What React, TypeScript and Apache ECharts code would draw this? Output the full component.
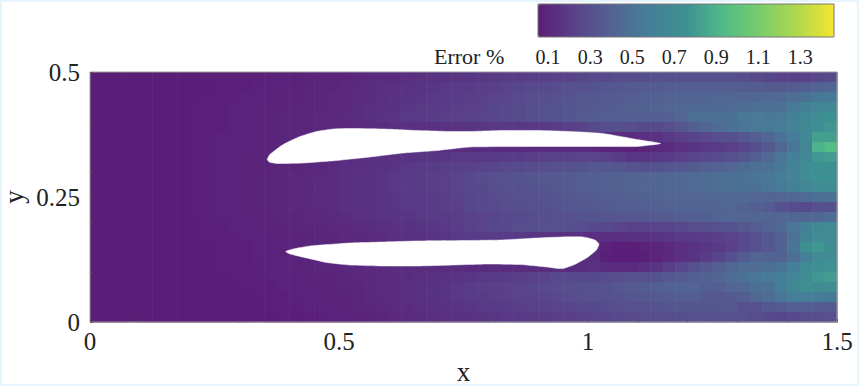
import React, { useEffect, useRef } from "react";
import * as echarts from "echarts";

const FONT = "Liberation Serif";
const xTickLabels = [0, 0.5, 1, 1.5];
const xTickMarks = [0, 0.1, 0.2, 0.3, 0.4, 0.5, 0.6, 0.7, 0.8, 0.9, 1, 1.1, 1.2, 1.3, 1.4, 1.5];
const yTickLabels = [0, 0.25, 0.5];
const yTickMarks = [0, 0.1, 0.2, 0.25, 0.3, 0.4, 0.5];
const barTicks = [0.1, 0.3, 0.5, 0.7, 0.9, 1.1, 1.3];
const palette = ["#5a1e78", "#59428a", "#526393", "#457f97", "#3d9192", "#50bb88", "#79cc6a", "#b0d84e", "#f5e62f"];

const cellW = 0.025;
const cellH = 0.02;

const row00 = [.05,.05,.05,.05,.05,.05,.05,.05,.05,.05, .06,.06,.06,.06,.07,.07,.07,.08,.08,.09, .09,.10,.11,.12,.12,.13,.14,.15,.15,.16, .17,.18,.19,.20,.20,.21,.22,.23,.24,.25, .26,.27,.28,.28,.29,.30,.30,.30,.31,.31, .31,.30,.29,.27,.25,.23,.22,.23,.25,.27];
const row01 = [.05,.05,.05,.05,.05,.05,.05,.05,.05,.05, .06,.06,.06,.07,.07,.07,.08,.08,.09,.09, .10,.11,.12,.13,.14,.15,.16,.17,.18,.19, .20,.21,.22,.24,.25,.26,.27,.28,.30,.31, .32,.33,.34,.35,.36,.36,.37,.37,.38,.38, .38,.38,.37,.36,.35,.35,.36,.38,.40,.42];
const row02 = [.05,.05,.05,.05,.05,.05,.05,.05,.05,.06, .06,.06,.07,.07,.07,.08,.08,.09,.09,.10, .10,.11,.12,.13,.15,.16,.17,.18,.19,.20, .21,.22,.24,.25,.27,.28,.29,.30,.32,.33, .34,.35,.36,.37,.38,.39,.40,.40,.41,.41, .42,.42,.43,.43,.44,.44,.46,.50,.53,.55];
const row03 = [.05,.05,.05,.05,.05,.05,.05,.05,.06,.06, .06,.07,.07,.07,.08,.08,.09,.09,.09,.10, .10,.12,.13,.14,.15,.17,.18,.19,.20,.21, .22,.23,.25,.26,.27,.29,.30,.32,.33,.34, .35,.36,.37,.39,.40,.41,.42,.43,.44,.44, .44,.45,.46,.47,.48,.50,.55,.60,.65,.68];
const row04 = [.05,.05,.05,.05,.05,.05,.05,.05,.06,.06, .06,.07,.07,.08,.08,.09,.09,.09,.10,.10, .11,.12,.13,.15,.16,.18,.19,.20,.21,.22, .23,.24,.25,.26,.27,.29,.30,.32,.33,.35, .36,.37,.38,.38,.37,.37,.39,.42,.47,.48, .49,.50,.53,.54,.53,.55,.60,.66,.72,.75];
const row05 = [.05,.05,.05,.05,.05,.05,.05,.05,.06,.06, .06,.07,.07,.08,.08,.09,.09,.09,.10,.10, .10,.11,.12,.12,.13,.14,.14,.14,.15,.16, .16,.17,.18,.18,.18,.18,.19,.20,.21,.24, .27,.28,.29,.28,.27,.27,.29,.33,.38,.42, .46,.50,.52,.54,.55,.57,.62,.68,.74,.78];
const row06 = [.05,.05,.05,.05,.05,.05,.05,.05,.06,.06, .07,.07,.07,.08,.08,.09,.09,.09,.10,.10, .12,.12,.12,.12,.12,.12,.12,.12,.12,.12, .12,.12,.12,.12,.12,.12,.12,.12,.12,.12, .14,.13,.12,.11,.13,.15,.18,.21,.24,.26, .29,.31,.34,.38,.43,.50,.56,.68,.82,.82];
const row07 = [.05,.05,.05,.05,.05,.05,.05,.05,.06,.06, .07,.07,.07,.08,.08,.09,.09,.09,.10,.10, .12,.12,.12,.12,.12,.12,.12,.12,.12,.12, .12,.12,.12,.12,.12,.12,.12,.12,.12,.12, .10,.08,.07,.06,.08,.10,.12,.14,.16,.18, .20,.22,.25,.29,.35,.42,.52,.65,.90,.95];
const row08 = [.05,.05,.05,.05,.05,.05,.05,.05,.06,.06, .07,.07,.08,.08,.08,.09,.09,.10,.10,.11, .13,.13,.14,.14,.15,.16,.16,.17,.17,.18, .18,.18,.19,.20,.20,.21,.22,.23,.23,.24, .24,.22,.20,.17,.17,.18,.20,.22,.24,.26, .28,.30,.33,.38,.44,.52,.60,.68,.78,.80];
const row09 = [.05,.05,.05,.05,.05,.05,.05,.05,.06,.06, .07,.07,.08,.08,.08,.09,.09,.10,.10,.11, .13,.13,.14,.15,.16,.18,.19,.20,.21,.22, .23,.24,.25,.26,.27,.28,.29,.30,.31,.32, .34,.34,.33,.32,.31,.32,.33,.34,.36,.38, .40,.42,.45,.48,.50,.55,.62,.70,.75,.75];
const row10 = [.05,.05,.05,.05,.05,.05,.05,.05,.06,.06, .07,.07,.08,.08,.09,.09,.10,.10,.11,.12, .13,.14,.15,.16,.18,.19,.20,.21,.22,.24, .27,.28,.30,.31,.32,.33,.34,.35,.36,.37, .38,.39,.40,.41,.41,.42,.43,.44,.45,.46, .47,.48,.50,.52,.53,.57,.63,.70,.75,.75];
const row11 = [.05,.05,.05,.05,.05,.05,.05,.05,.06,.06, .07,.07,.08,.08,.09,.09,.10,.10,.11,.12, .13,.14,.15,.16,.18,.19,.20,.21,.22,.24, .26,.27,.29,.30,.31,.32,.33,.34,.35,.37, .38,.39,.40,.41,.42,.42,.43,.44,.45,.46, .47,.48,.50,.50,.52,.55,.60,.65,.70,.72];
const row12 = [.05,.05,.05,.05,.05,.05,.05,.05,.06,.06, .07,.07,.08,.08,.09,.09,.10,.10,.11,.12, .13,.14,.15,.16,.17,.18,.19,.20,.21,.23, .25,.26,.28,.29,.30,.31,.32,.33,.34,.35, .36,.37,.38,.39,.40,.41,.42,.42,.42,.42, .43,.44,.44,.42,.42,.42,.43,.45,.48,.50];
const row13 = [.05,.05,.05,.05,.05,.05,.05,.05,.06,.06, .07,.07,.08,.08,.09,.09,.10,.10,.11,.12, .13,.14,.15,.16,.17,.18,.19,.20,.21,.22, .25,.26,.27,.28,.29,.30,.31,.32,.33,.34, .35,.36,.37,.37,.38,.39,.40,.40,.41,.41, .42,.42,.40,.38,.36,.32,.28,.27,.30,.30];
const row14 = [.05,.05,.05,.05,.05,.05,.05,.05,.06,.06, .07,.07,.07,.08,.08,.09,.09,.10,.10,.11, .12,.13,.14,.15,.16,.17,.18,.19,.20,.21, .23,.24,.25,.26,.27,.28,.29,.30,.31,.32, .32,.33,.33,.33,.34,.35,.36,.37,.38,.39, .41,.42,.42,.42,.42,.42,.42,.42,.43,.46];
const row15 = [.05,.05,.05,.05,.05,.05,.05,.05,.05,.06, .06,.07,.07,.07,.08,.08,.09,.09,.09,.10, .10,.11,.12,.13,.14,.15,.16,.17,.18,.20, .22,.24,.26,.27,.28,.29,.30,.30,.29,.28, .27,.26,.24,.23,.23,.24,.25,.27,.28,.29, .30,.32,.34,.37,.40,.44,.52,.60,.68,.70];
const row16 = [.05,.05,.05,.05,.05,.05,.05,.05,.05,.06, .06,.06,.07,.07,.07,.08,.08,.08,.09,.09, .10,.10,.11,.12,.13,.14,.15,.16,.17,.18, .20,.20,.20,.20,.18,.17,.16,.15,.14,.13, .13,.13,.13,.14,.15,.16,.17,.18,.19,.20, .22,.24,.27,.30,.34,.40,.50,.62,.70,.70];
const row17 = [.05,.05,.05,.05,.05,.05,.05,.05,.05,.05, .06,.06,.06,.07,.07,.07,.08,.08,.09,.09, .12,.12,.12,.12,.12,.12,.12,.12,.12,.12, .12,.12,.12,.12,.12,.12,.12,.12,.12,.12, .12,.07,.06,.06,.07,.09,.11,.13,.15,.17, .19,.22,.26,.31,.34,.40,.52,.74,.78,.72];
const row18 = [.05,.05,.05,.05,.05,.05,.05,.05,.05,.05, .06,.06,.06,.07,.07,.07,.08,.08,.08,.09, .12,.12,.12,.12,.12,.12,.12,.12,.12,.12, .12,.12,.12,.12,.12,.12,.12,.12,.12,.12, .12,.06,.05,.05,.06,.08,.10,.13,.16,.20, .24,.30,.36,.41,.40,.40,.47,.58,.70,.70];
const row19 = [.05,.05,.05,.05,.05,.05,.05,.05,.05,.05, .06,.06,.06,.06,.07,.07,.08,.08,.09,.09, .10,.10,.11,.11,.12,.12,.12,.12,.12,.12, .12,.12,.12,.12,.12,.12,.12,.12,.12,.12, .14,.12,.11,.11,.13,.16,.21,.26,.30,.34, .38,.43,.46,.46,.48,.51,.58,.69,.74,.76];
const row20 = [.05,.05,.05,.05,.05,.05,.05,.05,.05,.05, .05,.06,.06,.06,.07,.07,.07,.08,.08,.08, .09,.10,.10,.11,.12,.12,.13,.14,.15,.16, .17,.18,.19,.20,.21,.22,.24,.26,.26,.27, .27,.28,.29,.30,.31,.32,.34,.36,.38,.40, .42,.46,.50,.52,.55,.58,.64,.72,.78,.80];
const row21 = [.05,.05,.05,.05,.05,.05,.05,.05,.05,.05, .05,.05,.06,.06,.06,.07,.07,.07,.08,.08, .09,.09,.10,.11,.12,.13,.14,.15,.17,.18, .20,.21,.22,.23,.24,.25,.27,.28,.29,.30, .31,.32,.33,.35,.36,.38,.40,.41,.41,.38, .38,.42,.44,.47,.50,.58,.68,.74,.72,.72];
const row22 = [.05,.05,.05,.05,.05,.05,.05,.05,.05,.05, .05,.05,.05,.06,.06,.06,.07,.07,.07,.08, .08,.09,.10,.11,.12,.13,.14,.15,.16,.18, .19,.20,.21,.22,.23,.24,.25,.26,.28,.29, .30,.31,.32,.33,.34,.35,.36,.37,.37,.34, .34,.35,.38,.43,.46,.52,.58,.58,.56,.55];
const row23 = [.05,.05,.05,.05,.05,.05,.05,.05,.05,.05, .05,.05,.05,.05,.06,.06,.06,.07,.07,.07, .08,.09,.09,.10,.11,.12,.13,.14,.15,.16, .17,.18,.19,.20,.21,.22,.23,.24,.25,.26, .27,.28,.29,.30,.31,.32,.33,.33,.33,.33, .33,.34,.31,.31,.34,.36,.38,.37,.36,.36];
const row24 = [.05,.05,.05,.05,.05,.05,.05,.05,.05,.05, .05,.05,.05,.05,.05,.06,.06,.06,.06,.07, .07,.08,.08,.09,.10,.11,.12,.13,.14,.15, .15,.16,.17,.18,.18,.19,.20,.21,.22,.23, .24,.25,.26,.27,.28,.28,.29,.29,.30,.30, .30,.30,.30,.28,.27,.25,.26,.28,.28,.30];
const errorRows = [row00,row01,row02,row03,row04,row05,row06,row07,row08,row09,row10,row11,row12,row13,row14,row15,row16,row17,row18,row19,row20,row21,row22,row23,row24];

const upperFoilX = [.356,.361,.388,.422,.455,.488,.522,.588,.656,.723,.763,.829,.898,.964,1.030,1.098,1.146,1.098,1.030,.898,.763,.697,.629,.562,.495,.428,.375,.360];
const upperFoilY = [.325,.335,.355,.371,.381,.386,.387,.386,.383,.381,.381,.383,.383,.381,.377,.365,.357,.351,.351,.351,.350,.343,.338,.330,.323,.318,.317,.320];
const lowerFoilX = [.393,.408,.442,.522,.588,.656,.763,.829,.898,.950,.990,1.014,1.022,1.017,.997,.971,.950,.940,.917,.863,.797,.763,.656,.588,.522,.475,.435,.402];
const lowerFoilY = [.141,.146,.152,.158,.160,.162,.163,.164,.168,.170,.170,.164,.156,.144,.128,.114,.107,.107,.110,.115,.116,.115,.112,.112,.114,.119,.128,.136];

function foilSeries(xs: number[], ys: number[]) {
  const pts = xs.map((x, i) => [x, ys[i]]);
  return {
    type: "custom",
    coordinateSystem: "cartesian2d",
    xAxisIndex: 0,
    yAxisIndex: 0,
    z: 3,
    silent: true,
    encode: { x: 0, y: 1 },
    data: pts,
    renderItem: (params: any, api: any) =>
      params.dataIndex !== 0
        ? null
        : { type: "polygon", shape: { points: pts.map((p) => api.coord(p)), smooth: 0.15 }, style: { fill: "#ffffff", stroke: "#ffffff", lineWidth: 0.5 } },
  };
}

export default function App() {
  const ref = useRef<HTMLDivElement>(null);
  useEffect(() => {
    const chart = echarts.init(ref.current!, undefined, { renderer: "svg" });
    const cells: number[][] = [];
    errorRows.forEach((row, r) =>
      row.forEach((v, c) => cells.push([c * cellW, 0.48 - r * cellH, v]))
    );
    const textStyle = { fontFamily: FONT, color: "#222222" };
    chart.setOption({
      animation: false,
      backgroundColor: "transparent",
      grid: [
        { left: 90, top: 72, width: 747, height: 250, show: true, borderColor: "#9a9a9a", borderWidth: 1, backgroundColor: "transparent", z: 6, outerBoundsMode: "none" },
        { left: 538, top: 4, width: 296, height: 33, show: true, borderColor: "#777777", borderWidth: 1, backgroundColor: "transparent", z: 6, outerBoundsMode: "none" },
      ],
      visualMap: {
        type: "continuous",
        show: true,
        seriesIndex: 0,
        dimension: 2,
        min: 0.052,
        max: 1.46,
        orient: "horizontal",
        left: 538,
        top: 4,
        padding: 0,
        itemWidth: 33,
        itemHeight: 296,
        calculable: false,
        realtime: false,
        hoverLink: false,
        text: ["", ""],
        inRange: { color: palette },
      },
      xAxis: [
        {
          type: "value", gridIndex: 0, min: 0, max: 1.5, z: 7,
          name: "x", nameLocation: "middle", nameGap: 29,
          nameTextStyle: { ...textStyle, fontSize: 27, lineHeight: 20 },
          axisLine: { show: false },
          splitLine: { show: false },
          axisTick: { show: true, inside: true, length: 3, lineStyle: { color: "#555555", width: 0.8 }, customValues: xTickMarks },
          axisLabel: { ...textStyle, fontSize: 25, margin: 7, customValues: xTickLabels, formatter: (v: number) => String(v) },
        },
        {
          type: "value", gridIndex: 1, min: 0.052, max: 1.46, z: 7,
          axisLine: { show: false },
          splitLine: { show: false },
          axisTick: { show: false },
          axisLabel: { ...textStyle, fontSize: 20, margin: 10, customValues: barTicks, formatter: (v: number) => v.toFixed(1) },
        },
      ],
      yAxis: [
        {
          type: "value", gridIndex: 0, min: 0, max: 0.5, z: 7,
          name: "y", nameLocation: "middle", nameGap: 66, nameRotate: 90, nameMoveOverlap: false,
          nameTextStyle: { ...textStyle, fontSize: 27, lineHeight: 20 },
          axisLine: { show: false },
          splitLine: { show: false },
          axisTick: { show: true, inside: true, length: 3, lineStyle: { color: "#555555", width: 0.8 }, customValues: yTickMarks },
          axisLabel: { ...textStyle, fontSize: 25, margin: 10, customValues: yTickLabels, formatter: (v: number) => String(v) },
        },
        { type: "value", gridIndex: 1, min: 0, max: 1, show: false },
      ],
      graphic: [
        { type: "text", left: 434, top: 45, style: { text: "Error %", fontFamily: FONT, fontSize: 22, fill: "#222222" } },
      ],
      series: [
        {
          type: "custom",
          coordinateSystem: "cartesian2d",
          xAxisIndex: 0,
          yAxisIndex: 0,
          z: 2,
          silent: true,
          encode: { x: 0, y: 1 },
          data: cells,
          renderItem: (_p: any, api: any) => {
            const a = api.coord([api.value(0), api.value(1) + cellH]);
            const b = api.coord([api.value(0) + cellW, api.value(1)]);
            return {
              type: "rect",
              shape: { x: a[0], y: a[1], width: b[0] - a[0] + 0.6, height: b[1] - a[1] + 0.6 },
              style: { fill: api.visual("color") },
            };
          },
        },
        foilSeries(upperFoilX, upperFoilY),
        foilSeries(lowerFoilX, lowerFoilY),
      ],
    });
    return () => chart.dispose();
  }, []);
  return (
    <div style={{ position: "fixed", left: 0, top: 0, width: 859, height: 386, boxSizing: "border-box", border: "2px solid #e6f5fd", background: "#ffffff" }}>
      <div ref={ref} style={{ position: "absolute", left: -2, top: -2, width: 859, height: 386 }} />
    </div>
  );
}
